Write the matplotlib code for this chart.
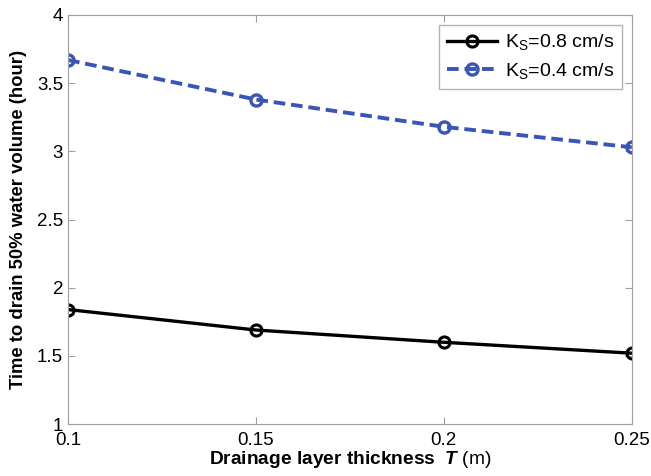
import matplotlib
matplotlib.use("Agg")
from matplotlib import pyplot as plt

plt.rcParams['font.family'] = ['Liberation Sans', 'DejaVu Sans']
plt.rcParams['mathtext.fontset'] = 'custom'
plt.rcParams['mathtext.rm'] = 'Liberation Sans'
plt.rcParams['mathtext.it'] = 'Liberation Sans:italic'
plt.rcParams['mathtext.bf'] = 'Liberation Sans:bold'
plt.rcParams['mathtext.bfit'] = 'Liberation Sans:italic:bold'

thickness = [0.1, 0.15, 0.2, 0.25]
time_ks08 = [1.84, 1.69, 1.60, 1.52]
time_ks04 = [3.67, 3.38, 3.18, 3.03]

fig = plt.figure(figsize=(6.51, 4.76), dpi=100)
ax = fig.add_axes([0.1045, 0.109, 0.866, 0.8595])

ax.plot(thickness, time_ks08, color='black', lw=2.4, marker='o', ms=8,
        mfc='none', mew=2.2, label=r'K$_\mathrm{S}$=0.8 cm/s')
ax.plot(thickness, time_ks04, color='#3a55b4', lw=2.8, ls='--', dashes=(3, 1.5),
        marker='o', ms=8, mfc='none', mew=2.4, label=r'K$_\mathrm{S}$=0.4 cm/s')

ax.set_xlim(0.1, 0.25)
ax.set_ylim(1, 4)
ax.set_xticks([0.1, 0.15, 0.2, 0.25])
ax.set_xticklabels(['0.1', '0.15', '0.2', '0.25'])
ax.set_yticks([1, 1.5, 2, 2.5, 3, 3.5, 4])
ax.set_yticklabels(['1', '1.5', '2', '2.5', '3', '3.5', '4'])

for s in ax.spines.values():
    s.set_color('#a0a0a0')
ax.tick_params(direction='in', color='#a0a0a0', labelsize=13.5, length=5,
               top=True, right=True)
ax.tick_params(axis='x', pad=6)

ax.set_xlabel(r'$\mathbf{Drainage\ layer\ thickness}\ \ \boldsymbol{T}$ (m)',
              fontsize=13.8, labelpad=0)
ax.set_ylabel('Time to drain 50% water volume (hour)', fontsize=13.3,
              fontweight='bold', labelpad=7)

leg = ax.legend(loc='upper right', fontsize=14, fancybox=False,
                edgecolor='#a0a0a0', handlelength=2.6, borderaxespad=0.5,
                labelspacing=0.45, handletextpad=0.4)
leg.get_frame().set_linewidth(1.0)

fig.savefig('out.png', dpi=100)
